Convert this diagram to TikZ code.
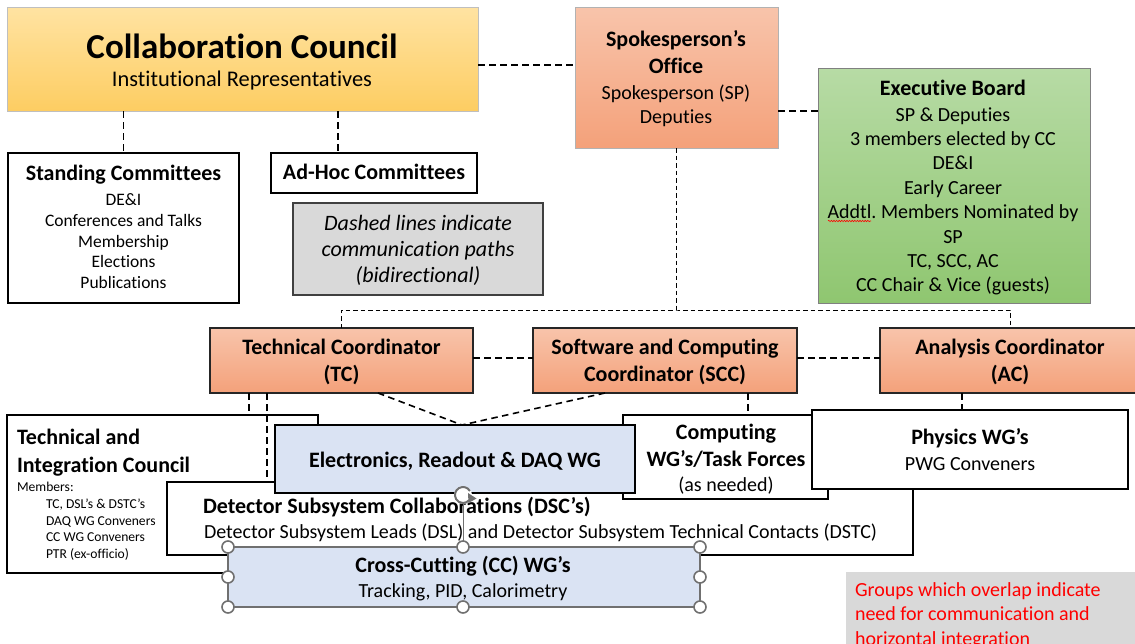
\documentclass[tikz,border=0pt]{standalone}
\usepackage{fontspec}
\setmainfont{Carlito}[Ligatures=CommonOff]
\usetikzlibrary{calc,decorations.pathmorphing,arrows.meta}
\definecolor{ccTop}{HTML}{FFE3A2}
\definecolor{ccBot}{HTML}{FDCD62}
\definecolor{saTop}{HTML}{F8C4AB}
\definecolor{saBot}{HTML}{F4A17A}
\definecolor{gTop}{HTML}{B7DBA5}
\definecolor{gBot}{HTML}{8FC670}
\definecolor{lblue}{HTML}{DAE3F3}
\definecolor{ngray}{HTML}{D9D9D9}
\definecolor{hgray}{HTML}{707070}
\definecolor{redtxt}{HTML}{FF0000}
\frenchspacing
\newcommand\mybox[6]{\node[#2, minimum width={#5-#3}, minimum height={#6-#4}] (#1) at ({(#3+#5)/2},{(#4+#6)/2}) {};}
\newcommand\tl[5]{\node[#4] (#1) at (#2,#3) {#5};}
\tikzset{
  every node/.style={inner sep=0pt, outer sep=0pt},
  box/.style={rectangle, draw=black, line width=1.8pt, fill=white},
  ccbox/.style={rectangle, top color=ccTop, bottom color=ccBot, draw=black!25, line width=0.8pt},
  sobox/.style={rectangle, top color=saTop, bottom color=saBot, draw=black!30, line width=0.8pt},
  ebbox/.style={rectangle, top color=gTop, bottom color=gBot, draw=black!50, line width=1pt},
  coordbox/.style={rectangle, top color=saTop, bottom color=saBot, draw=black!85, line width=1.6pt},
  notebox/.style={rectangle, fill=ngray, draw=black!75, line width=1.4pt},
  bluebox/.style={rectangle, fill=lblue, draw=black, line width=1.8pt},
  bluesel/.style={rectangle, fill=lblue, draw=hgray, line width=1.8pt},
  redbox/.style={rectangle, fill=ngray},
  dl/.style={draw=black, line width=1.6pt, dash pattern=on 6.5pt off 4.5pt},
  dlt/.style={draw=black, line width=1pt, dash pattern=on 4.5pt off 3pt},
  tbig/.style={anchor=base, font=\fontsize{35}{42}\selectfont\bfseries, yshift=-11pt},
  tsub/.style={anchor=base, font=\fontsize{22.4}{27}\selectfont, yshift=-6.7pt},
  tb/.style={anchor=base, font=\fontsize{22}{26}\selectfont\bfseries, yshift=-6.6pt},
  tr/.style={anchor=base, font=\fontsize{20}{24}\selectfont, yshift=-6pt},
  ts/.style={anchor=base, font=\fontsize{17.5}{21}\selectfont, yshift=-5.2pt},
  ti/.style={anchor=base, font=\fontsize{22}{26}\selectfont\itshape, yshift=-6.6pt},
  tm/.style={anchor=base west, font=\fontsize{13.6}{16}\selectfont, yshift=-4pt},
  handle/.style={circle, draw=hgray, fill=white, line width=1.6pt, minimum size=12pt},
}
\begin{document}
\begin{tikzpicture}[x=1pt,y=-1pt]
\fill[white] (0,0) rectangle (1135,643);
\useasboundingbox (0,0) rectangle (1135,643);

% ---- top row ----
\mybox{cc}{ccbox}{7}{7}{478}{111}
\tl{ccT}{242}{47}{tbig}{Collaboration Council}
\tl{ccS}{242}{80}{tsub}{Institutional Representatives}

\mybox{so}{sobox}{575}{7}{778}{148}
\tl{so1}{676}{40}{tb}{Spokesperson’s}
\tl{so2}{676}{67}{tb}{Office}
\tl{so3}{676}{93}{tr}{Spokesperson (SP)}
\tl{so4}{676}{117}{tr}{Deputies}

\mybox{eb}{ebbox}{818}{68}{1090}{303}
\tl{eb0}{953}{89}{tb}{Executive Board}
\foreach \t [count=\i] in {SP \& Deputies, 3 members elected by CC, DE\&I, Early Career, Addtl.\ Members Nominated by, SP, {TC, SCC, AC}, CC Chair \& Vice (guests)}
  \node[tr] (eb\i) at (953,{115+24.4*(\i-1)}) {\t};
\draw[red, line width=0.6pt, decorate, decoration={snake, amplitude=0.7pt, segment length=2.6pt}] (828,221) -- (871,221);

\mybox{std}{box}{8}{153}{239}{303}
\tl{std0}{123.5}{174}{tb}{Standing Committees}
\foreach \t [count=\i] in {DE\&I, Conferences and Talks, Membership, Elections, Publications}
  \node[ts] (std\i) at (123.5,{200+20.9*(\i-1)}) {\t};

\mybox{adhoc}{box}{271}{153}{477}{193}
\tl{adhocT}{374}{173}{tb}{Ad-Hoc Committees}

\mybox{note}{notebox}{293}{203}{543}{295}
\tl{note1}{418}{224}{ti}{Dashed lines indicate}
\tl{note2}{418}{250}{ti}{communication paths}
\tl{note3}{418}{276}{ti}{(bidirectional)}

% ---- coordinators ----
\mybox{tc}{coordbox}{210}{328}{473}{393}
\tl{tc1}{341.5}{348}{tb}{Technical Coordinator}
\tl{tc2}{341.5}{375}{tb}{(TC)}

\mybox{scc}{coordbox}{533}{328}{797}{393}
\tl{scc1}{665}{348}{tb}{Software and Computing}
\tl{scc2}{665}{375}{tb}{Coordinator (SCC)}

\mybox{ac}{coordbox}{880}{328}{1140}{393}
\tl{ac1}{1010}{348}{tb}{Analysis Coordinator}
\tl{ac2}{1010}{375}{tb}{(AC)}

% ---- lower groups ----
\mybox{tic}{box}{7}{415}{318}{573}
\node[tb, anchor=base west] (tic1) at (17,438) {Technical and};
\node[tb, anchor=base west] (tic2) at (17,466) {Integration Council};
\tl{tic3}{17}{487}{tm}{Members:}
\tl{tic4}{46}{504}{tm}{TC, DSL’s \& DSTC’s}
\tl{tic5}{46}{521}{tm}{DAQ WG Conveners}
\tl{tic6}{46}{537}{tm}{CC WG Conveners}
\tl{tic7}{46}{554}{tm}{PTR (ex-officio)}

\mybox{dsc}{box}{167}{482}{913}{555}
\node[tb, anchor=base west] (dsc1) at (203,507) {Detector Subsystem Collaborations (DSC’s)};
\node[tr, anchor=base west] (dsc2) at (204,532) {Detector Subsystem Leads (DSL) and Detector Subsystem Technical Contacts (DSTC)};

\mybox{comp}{box}{623}{415}{828}{499}
\tl{comp1}{726}{433}{tb}{Computing}
\tl{comp2}{726}{460}{tb}{WG’s/Task Forces}
\tl{comp3}{726}{485}{tr}{(as needed)}

\mybox{elec}{bluebox}{275}{425}{635}{493}
\tl{elecT}{455}{461}{tb}{Electronics, Readout \& DAQ WG}

\mybox{phys}{box}{812}{410}{1128}{489}
\tl{phys1}{970}{438}{tb}{Physics WG’s}
\tl{phys2}{970}{464}{tr}{PWG Conveners}

\mybox{ccwg}{bluesel}{228}{547}{700}{607}
\tl{ccwg1}{463}{566}{tb}{Cross-Cutting (CC) WG’s}
\tl{ccwg2}{463}{591}{tr}{Tracking, PID, Calorimetry}

% selection handles of the Cross-Cutting box
\draw[hgray, line width=0.8pt] (463,504) -- (ccwg.north -| 463,0);
\foreach \p [count=\k] in {{228,547},{463,547},{700,547},{228,577},{700,577},{228,607},{463,607},{700,607}}
  \node[handle] (h\k) at (\p) {};
\node[circle, fill=white, minimum size=18pt] (rot) at (463,495) {};
\draw[hgray, line width=2pt] ([shift={(30:8pt)}]rot.center) arc[start angle=30, end angle=320, radius=8pt];
\fill[hgray] (468,493) -- (476.5,498.5) -- (468.5,503) -- cycle;

% red note
\mybox{red}{redbox}{846}{572}{1140}{660}
\node[tr, anchor=base west, text=redtxt] (red1) at (855,590) {Groups which overlap indicate};
\node[tr, anchor=base west, text=redtxt] (red2) at (855,614) {need for communication and};
\node[tr, anchor=base west, text=redtxt] (red3) at (855,639) {horizontal integration};

% ---- connectors ----
\draw[dl] (cc.east |- 0,65) -- (so.west |- 0,65);
\draw[dl] (so.east |- 0,111) -- (eb.west |- 0,111);
\draw[dl] (cc.south -| std.north) -- (std.north);
\draw[dl] (cc.south -| 338,0) -- (adhoc.north -| 338,0);
\coordinate (bus) at (so.south |- 0,310);
\draw[dlt] (so.south) -- (bus);
\draw[dlt] (tc.north -| 341,0) |- (bus) -| (ac.north);
\draw[dl] (tc.east |- 0,358) -- (scc.west |- 0,358);
\draw[dl] (scc.east |- 0,358) -- (ac.west |- 0,358);
\coordinate (apex) at (elec.north -| 462,0);
\draw[dl] (tc.south -| 378,0) -- (apex);
\draw[dl] (scc.south -| 605,0) -- (apex);
\draw[dl] (tc.south -| 249,0) -- (tic.north -| 249,0);
\draw[dl] (tc.south -| 267,0) -- (dsc.north -| 267,0);
\draw[dl] (scc.south -| 748,0) -- (comp.north -| 748,0);
\draw[dl] (ac.south -| 962,0) -- (phys.north -| 962,0);
\end{tikzpicture}
\end{document}
